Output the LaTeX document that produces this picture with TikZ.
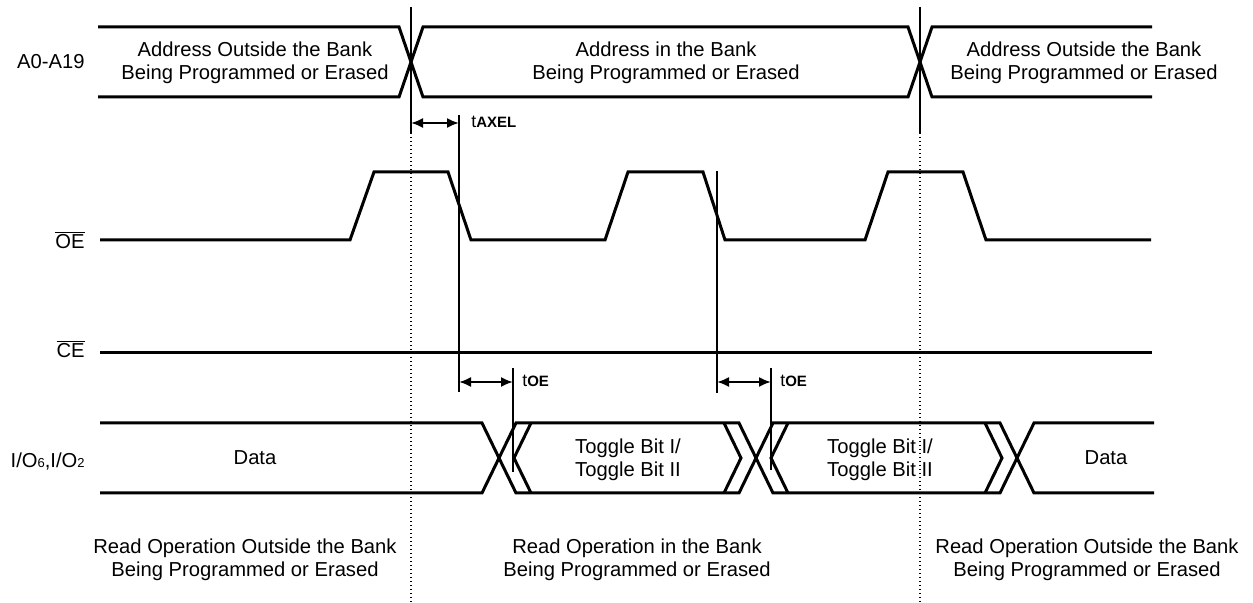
\documentclass[tikz,border=0pt]{standalone}
\usepackage{fontspec}
\setmainfont{Liberation Sans}
\usetikzlibrary{arrows.meta}
\begin{document}
\begin{tikzpicture}[x=0.5pt,y=-0.5pt,
  sig/.style={line width=1.5pt, line join=miter},
  vline/.style={line width=0.8pt},
  dots/.style={line width=0.7pt, dash pattern=on 0.7pt off 1.3pt},
  dim/.style={line width=1pt, {Latex[length=6pt,width=5pt]}-{Latex[length=6pt,width=5pt]}},
  txt/.style={font=\fontsize{10.1}{11.75}\selectfont, inner sep=0pt, align=center},
  lbl/.style={font=\fontsize{10.1}{11.75}\selectfont, inner sep=0pt, anchor=base east},
  tim/.style={font=\fontsize{8.8}{10}\selectfont, inner sep=0pt, anchor=base west}]

\useasboundingbox (0,0) rectangle (1253,603);

% signal labels
\node[lbl] (la) at (85,69) {A0-A19};
\node[lbl] (loe) at (85,249) {$\overline{\mbox{OE}}$};
\node[lbl] (lce) at (85,358) {$\overline{\mbox{CE}}$};
\node[lbl] (lio) at (85,468) {I/O{\fontsize{6.5}{7}\selectfont 6},I/O{\fontsize{6.5}{7}\selectfont 2}};

% address bus
\draw[sig] (98,27) -- (399,27) -- (423,97) -- (908,97) -- (932,27) -- (1152,27);
\draw[sig] (98,97) -- (399,97) -- (423,27) -- (908,27) -- (932,97) -- (1152,97);

% OE
\draw[sig] (100,240) -- (350,240) -- (374,172) -- (448,172) -- (471,240) -- (605,240) -- (628,172) -- (703,172) -- (725,240) -- (865,240) -- (888,172) -- (963,172) -- (986,240) -- (1151,240);

% CE
\draw[sig] (100,353) -- (1152,353);

% I/O bus
\draw[sig] (100,423) -- (482,423) -- (516,493) -- (739,493) -- (773,423) -- (1000,423) -- (1034,493) -- (1154,493);
\draw[sig] (100,493) -- (482,493) -- (516,423) -- (739,423) -- (773,493) -- (1000,493) -- (1034,423) -- (1154,423);
\draw[sig] (531,423) -- (514,458) -- (531,493);
\draw[sig] (724,423) -- (741,458) -- (724,493);
\draw[sig] (788,423) -- (771,458) -- (788,493);
\draw[sig] (985,423) -- (1002,458) -- (985,493);

% reference lines
\draw[vline] (411,7) -- (411,133);
\draw[dots] (411,133) -- (411,603);
\draw[vline] (920,7) -- (920,133);
\draw[dots] (920,133) -- (920,603);
\draw[vline] (459,115) -- (459,392);
\draw[vline] (513,368) -- (513,472);
\draw[vline] (717,171) -- (717,393);
\draw[vline] (771,368) -- (771,470);

% timing arrows
\coordinate (ax1) at (411,123); \coordinate (ax2) at (459,123);
\draw[dim] (ax1) -- (ax2);
\node[tim] (taxel) at (471,128) {t{\bfseries\fontsize{7.5}{8}\selectfont AXEL}};
\coordinate (oe1) at (459,382); \coordinate (oe2) at (513,382);
\draw[dim] (oe1) -- (oe2);
\node[tim] (toe1) at (522,387) {t{\bfseries\fontsize{7.5}{8}\selectfont OE}};
\coordinate (oe3) at (717,382); \coordinate (oe4) at (771,382);
\draw[dim] (oe3) -- (oe4);
\node[tim] (toe2) at (780,387) {t{\bfseries\fontsize{7.5}{8}\selectfont OE}};

% bus texts
\node[txt] (t1) at (255,63) {Address Outside the Bank\\Being Programmed or Erased};
\node[txt] (t2) at (666,63) {Address in the Bank\\Being Programmed or Erased};
\node[txt] (t3) at (1084,63) {Address Outside the Bank\\Being Programmed or Erased};
\node[txt,anchor=base] (d1) at (255,465) {Data};
\node[txt] (g1) at (628,460) {Toggle Bit I/\\Toggle Bit II};
\node[txt] (g2) at (880,460) {Toggle Bit I/\\Toggle Bit II};
\node[txt,anchor=base] (d2) at (1106,465) {Data};

% bottom texts
\node[txt] (b1) at (245,560) {Read Operation Outside the Bank\\Being Programmed or Erased};
\node[txt] (b2) at (637,560) {Read Operation in the Bank\\Being Programmed or Erased};
\node[txt] (b3) at (1087,560) {Read Operation Outside the Bank\\Being Programmed or Erased};
\end{tikzpicture}
\end{document}
